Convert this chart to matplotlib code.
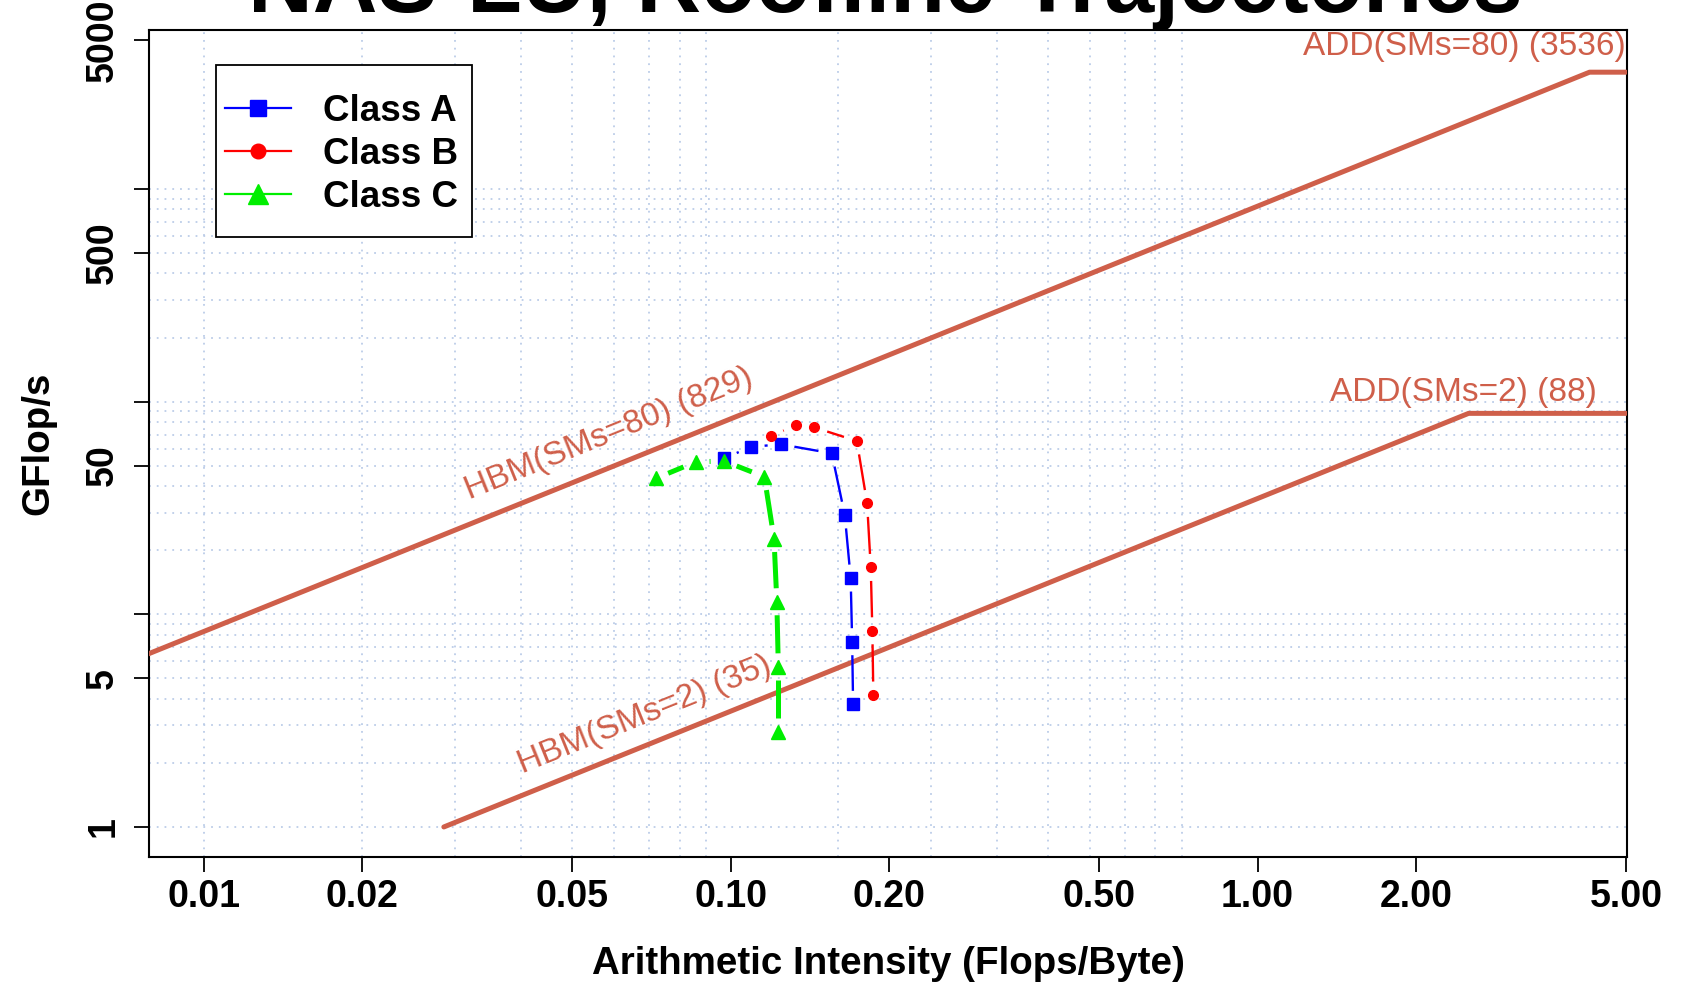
import numpy as np
import matplotlib
matplotlib.use('Agg')
import matplotlib.pyplot as plt
from matplotlib.lines import Line2D
from matplotlib.patches import Rectangle
from matplotlib.ticker import NullLocator

plt.rcParams['font.family'] = ['Liberation Sans', 'DejaVu Sans']
plt.rcParams['font.weight'] = 'bold'
plt.rcParams['axes.labelweight'] = 'bold'

# machine ceilings (GB/s and GFlop/s)
roof_tags = ['SMs=80', 'SMs=2']
hbm_bw = [829, 35]
add_peak = [3536, 88]

# kernel trajectories: arithmetic intensity vs GFlop/s
ai_a = [0.0973, 0.1094, 0.1247, 0.1556, 0.1647, 0.1690, 0.1701, 0.1708]
gf_a = [54.1, 61.3, 62.9, 57.1, 29.3, 14.8, 7.43, 3.77]
ai_b = [0.1192, 0.1332, 0.1442, 0.1736, 0.1816, 0.1845, 0.1858, 0.1866]
gf_b = [68.8, 77.5, 75.6, 65.2, 33.2, 16.6, 8.36, 4.17]
ai_c = [0.0721, 0.0860, 0.0972, 0.1159, 0.1209, 0.1224, 0.1232, 0.1232]
gf_c = [43.5, 52.1, 52.5, 44.3, 22.7, 11.45, 5.66, 2.81]

x_ticks = [0.01, 0.02, 0.05, 0.1, 0.2, 0.5, 1, 2, 5]
y_ticks = [1, 5, 10, 50, 100, 500, 1000, 5000]
y_labels = ['1', '5', '', '50', '', '500', '', '5000']
grid_x = [0.01 * k for k in range(1, 10)] + [0.08 * k for k in range(2, 10)]
grid_y = [m * 10 ** e for e in range(3) for m in range(1, 10)] + [1000]

roof_col = '#CF5F4A'
grid_col = '#BCCDE8'

fig = plt.figure(figsize=(16.97, 9.85), dpi=100)
ax = fig.add_axes([0.0880, 0.1299, 0.8706, 0.8396])
ax.set_xscale('log')
ax.set_yscale('log')
ax.set_xlim(0.00789, 5.018)
ax.set_ylim(0.722, 5580)

for gx in grid_x:
    ax.axvline(gx, color=grid_col, lw=1.3, dashes=(1, 3.3), zorder=0)
for gy in grid_y:
    ax.axhline(gy, color=grid_col, lw=1.3, dashes=(1, 3.3), zorder=0)


def line_angle(x0, y0, x1, y1):
    p = ax.transData.transform([(x0, y0), (x1, y1)])
    return np.degrees(np.arctan2(p[1, 1] - p[0, 1], p[1, 0] - p[0, 0]))


def gapped(x, y, gap=13.5, **kw):
    # connect points like R's type="b": segments stop short of each marker
    pts = ax.transData.transform(np.column_stack([x, y]))
    inv = ax.transData.inverted()
    for p, q in zip(pts[:-1], pts[1:]):
        d = q - p
        L = np.hypot(*d)
        if L <= 2 * gap:
            continue
        u = d / L
        seg = inv.transform([p + u * gap, q - u * gap])
        ax.plot(seg[:, 0], seg[:, 1], solid_capstyle='butt', **kw)


# rooflines
for bw, peak in zip(hbm_bw, add_peak):
    xs = np.array([1 / bw, peak / bw, 5.0])
    ax.plot(xs, np.minimum(bw * xs, peak), color=roof_col, lw=3.6,
            solid_capstyle='round', zorder=3)

ang = line_angle(0.01, 1, 1, 100)
lab_kw = dict(color=roof_col, fontsize=24, fontweight='normal')
ax.text(0.0320, 34.8, f'HBM({roof_tags[0]}) ({hbm_bw[0]})', rotation=ang,
        rotation_mode='anchor', ha='left', va='baseline', **lab_kw)
ax.text(0.0402, 1.787, f'HBM({roof_tags[1]}) ({hbm_bw[1]})', rotation=ang,
        rotation_mode='anchor', ha='left', va='baseline', **lab_kw)
ax.text(4.99, 4256, f'ADD({roof_tags[0]}) ({add_peak[0]})',
        ha='right', va='baseline', **lab_kw)
ax.text(4.40, 100.6, f'ADD({roof_tags[1]}) ({add_peak[1]})',
        ha='right', va='baseline', **lab_kw)

# trajectories
series = [
    (ai_a, gf_a, 'blue', 's', 8, 1.7, 'Class A'),
    (ai_b, gf_b, 'red', 'o', 7, 1.7, 'Class B'),
    (ai_c, gf_c, '#00EE00', '^', 10, 3.6, 'Class C'),
]
handles = []
for xs, ys, col, mk, ms, lw, name in series:
    gapped(xs, ys, color=col, lw=lw, zorder=4)
    ax.plot(xs, ys, ls='none', marker=mk, ms=ms, color=col, zorder=5)
    handles.append(Line2D([], [], color=col, lw=1.6, marker=mk, ms=ms * 1.5,
                          label=name))

ax.add_patch(Rectangle((0.0454, 0.7497), 0.1730, 0.2080, transform=ax.transAxes,
                       facecolor='white', edgecolor='black', lw=1.3, zorder=6))
leg = ax.legend(handles=handles, loc='upper left', bbox_to_anchor=(0.0512, 0.9225),
                frameon=False, borderpad=0, borderaxespad=0, fontsize=26.5,
                handlelength=1.8, handletextpad=0.85, labelspacing=0.22)
leg.set_zorder(7)

ax.xaxis.set_minor_locator(NullLocator())
ax.yaxis.set_minor_locator(NullLocator())
ax.set_xticks(x_ticks)
ax.set_xticklabels([f'{v:.2f}' for v in x_ticks])
ax.set_yticks(y_ticks)
ax.set_yticklabels(y_labels)
ax.tick_params(axis='both', length=10.8, width=1.3, labelsize=27, direction='out')
ax.tick_params(axis='x', pad=5.0)
ax.tick_params(axis='y', pad=9.5)
for t in ax.get_yticklabels():
    t.set_rotation(90)
    t.set_va('center')
for s in ax.spines.values():
    s.set_linewidth(1.5)

ax.set_xlabel('Arithmetic Intensity (Flops/Byte)', fontsize=27.7, fontweight='bold')
ax.xaxis.label.set_va('baseline')
ax.xaxis.set_label_coords(0.5, -(974 - 857) / 827)
ax.set_ylabel('GFlop/s', fontsize=27.7, fontweight='bold')
ax.yaxis.label.set_va('center')
ax.yaxis.set_label_coords((38 - 149.4) / 1477.3, 0.5)

fig.text(0.5215, 1 - 12 / 985, 'NAS-LU, Roofline Trajectories', fontsize=64.5,
         ha='center', va='baseline')

fig.savefig('out.png', dpi=100)
